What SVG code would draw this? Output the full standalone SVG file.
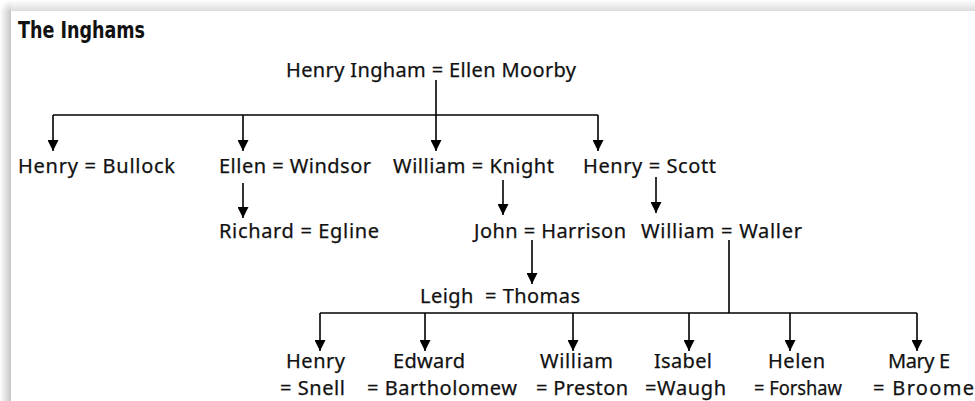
<svg xmlns="http://www.w3.org/2000/svg" width="975" height="401" viewBox="0 0 975 401">
<defs>
<linearGradient id="gl" x1="0" y1="0" x2="1" y2="0">
<stop offset="0" stop-color="#ffffff"/><stop offset="1" stop-color="#c6c6c6"/>
</linearGradient>
<linearGradient id="gt" x1="0" y1="0" x2="0" y2="1">
<stop offset="0" stop-color="#ffffff"/><stop offset="1" stop-color="#dcdcdc"/>
</linearGradient>
<radialGradient id="gc" cx="11" cy="11" r="11" gradientUnits="userSpaceOnUse">
<stop offset="0" stop-color="#d0d0d0"/><stop offset="1" stop-color="#ffffff"/>
</radialGradient>
<marker id="ah" markerUnits="userSpaceOnUse" markerWidth="11" markerHeight="11" refX="10" refY="5" orient="auto" viewBox="0 0 10 10">
<path d="M0,0 L10,5 L0,10 z" fill="#000"/>
</marker>
</defs>
<style>
.t{font-family:"Noto Sans","Open Sans","DejaVu Sans",sans-serif;font-size:20px;fill:#111;stroke:#111;stroke-width:0.25;white-space:pre}
.g{lengthAdjust:spacingAndGlyphs}
.title{font-family:"DejaVu Sans Condensed","DejaVu Sans",sans-serif;font-weight:bold;font-size:23px;fill:#111}
.c line{stroke:#000;stroke-width:1.6;fill:none}
.c line.a{marker-end:url(#ah)}
</style>
<rect x="0" y="0" width="975" height="401" fill="#ffffff"/>
<rect x="0" y="11" width="11" height="390" fill="url(#gl)"/>
<rect x="11" y="0" width="964" height="11" fill="url(#gt)"/>
<rect x="0" y="0" width="11" height="11" fill="url(#gc)"/>
<text class="title" x="18" y="38" textLength="127" lengthAdjust="spacingAndGlyphs">The Inghams</text>
<g class="c" id="connectors">
<line x1="436" y1="80" x2="436" y2="115"/>
<line x1="53" y1="115" x2="598" y2="115"/>
<line class="a" x1="53" y1="115" x2="53" y2="151"/>
<line class="a" x1="243" y1="115" x2="243" y2="151"/>
<line class="a" x1="436" y1="115" x2="436" y2="151"/>
<line class="a" x1="598" y1="115" x2="598" y2="151"/>
<line class="a" x1="243" y1="183" x2="243" y2="218"/>
<line class="a" x1="503" y1="180" x2="503" y2="215"/>
<line class="a" x1="656" y1="177" x2="656" y2="213"/>
<line class="a" x1="532" y1="240" x2="532" y2="284"/>
<line x1="729" y1="240" x2="729" y2="313"/>
<line x1="320" y1="313" x2="917" y2="313"/>
<line class="a" x1="320" y1="313" x2="320" y2="351"/>
<line class="a" x1="425" y1="313" x2="425" y2="351"/>
<line class="a" x1="573" y1="313" x2="573" y2="351"/>
<line class="a" x1="689" y1="313" x2="689" y2="351"/>
<line class="a" x1="790" y1="313" x2="790" y2="351"/>
<line class="a" x1="917" y1="313" x2="917" y2="351"/>
</g>
<g id="n-henry-ingham"><text class="t" x="286" y="77" textLength="290">Henry Ingham = Ellen Moorby</text></g>
<g id="n-henry-bullock"><text class="t" x="18" y="173" textLength="157">Henry = Bullock</text></g>
<g id="n-ellen-windsor"><text class="t" x="219" y="173" textLength="152">Ellen = Windsor</text></g>
<g id="n-william-knight"><text class="t" x="393" y="173" textLength="161">William = Knight</text></g>
<g id="n-henry-scott"><text class="t" x="583" y="173" textLength="133">Henry = Scott</text></g>
<g id="n-richard-egline"><text class="t" x="219" y="238" textLength="160">Richard = Egline</text></g>
<g id="n-john-harrison"><text class="t" x="474" y="238" textLength="152">John = Harrison</text></g>
<g id="n-william-waller"><text class="t" x="641" y="238" textLength="161">William = Waller</text></g>
<g id="n-leigh-thomas"><text class="t" x="420" y="303" textLength="160">Leigh  = Thomas</text></g>
<g id="n-henry-snell"><text class="t" x="286" y="368" textLength="59">Henry</text><text class="t" x="280" y="395" textLength="65">= Snell</text></g>
<g id="n-edward"><text class="t" x="393" y="368" textLength="72">Edward</text><text class="t" x="367" y="395" textLength="150">= Bartholomew</text></g>
<g id="n-william-preston"><text class="t" x="540" y="368" textLength="73">William</text><text class="t" x="536" y="395" textLength="92">= Preston</text></g>
<g id="n-isabel"><text class="t" x="654" y="368" textLength="58">Isabel</text><text class="t" x="645" y="395" textLength="81">=Waugh</text></g>
<g id="n-helen"><text class="t" x="768" y="368" textLength="57">Helen</text><text class="t" x="754" y="395" textLength="88" lengthAdjust="spacingAndGlyphs">= Forshaw</text></g>
<g id="n-mary"><text class="t" x="888" y="368" textLength="62">Mary E</text><text class="t" x="873" y="395" textLength="101">= Broome</text></g>
</svg>
